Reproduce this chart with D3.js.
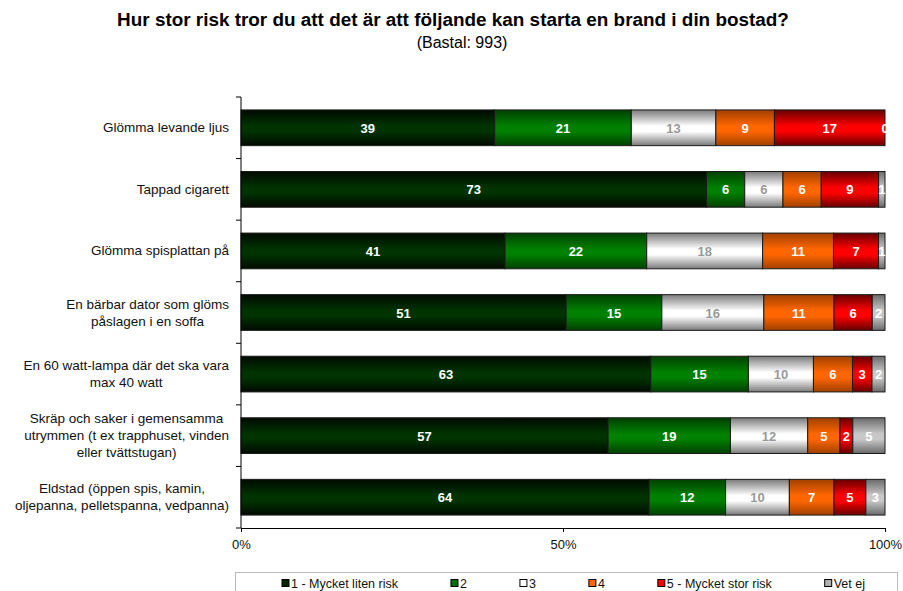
<!DOCTYPE html>
<html>
<head>
<meta charset="utf-8">
<script src="https://cdn.jsdelivr.net/npm/d3@7"></script>
<style>
  body { margin: 0; background: #fff; }
  svg { font-family: "Liberation Sans", Arial, sans-serif; }
</style>
</head>
<body>
<div id="chart"></div>
<script>
// categories (wrapped into lines as in the original)
var categories = [
  ["Glömma levande ljus"],
  ["Tappad cigarett"],
  ["Glömma spisplattan på"],
  ["En bärbar dator som glöms", "påslagen i en soffa"],
  ["En 60 watt-lampa där det ska vara", "max 40 watt"],
  ["Skräp och saker i gemensamma", "utrymmen (t ex trapphuset, vinden", "eller tvättstugan)"],
  ["Eldstad (öppen spis, kamin,", "oljepanna, pelletspanna, vedpanna)"]
];
var seriesNames = ["1 - Mycket liten risk", "2", "3", "4", "5 - Mycket stor risk", "Vet ej"];
var s1 = [39, 73, 41, 51, 63, 57, 64];
var s2 = [21, 6, 22, 15, 15, 19, 12];
var s3 = [13, 6, 18, 16, 10, 12, 10];
var s4 = [9, 6, 11, 11, 6, 5, 7];
var s5 = [17, 9, 7, 6, 3, 2, 5];
var s6 = [0, 1, 1, 2, 2, 5, 3];
var xTicks = [0, 0.5, 1];

var series = [s1, s2, s3, s4, s5, s6];
// gradient stops: edge, middle
var fills = [
  ["#000a00", "#003300"],
  ["#004000", "#008000"],
  ["#7a7a7a", "#ffffff"],
  ["#a04000", "#ff6600"],
  ["#660000", "#ff0000"],
  ["#6a6a6a", "#c8c8c8"]
];
var swatch = ["#002800", "#007000", "#ffffff", "#ff6600", "#ff0000", "#b0b0b0"];
var labelColors = ["#fff", "#fff", "#999", "#fff", "#fff", "#fff"];

var width = 903, height = 591;
var margin = {left: 241, right: 18, top: 97, bottom: 63};

var svg = d3.select("#chart").append("svg")
  .attr("width", width).attr("height", height);

var defs = svg.append("defs");
fills.forEach(function(f, i) {
  var g = defs.append("linearGradient").attr("id", "g" + i)
    .attr("x1", 0).attr("y1", 0).attr("x2", 0).attr("y2", 1);
  g.append("stop").attr("offset", "0%").attr("stop-color", f[0]);
  g.append("stop").attr("offset", "45%").attr("stop-color", f[1]);
  g.append("stop").attr("offset", "60%").attr("stop-color", f[1]);
  g.append("stop").attr("offset", "100%").attr("stop-color", f[0]);
});

// title
svg.append("text").attr("x", 453).attr("y", 26)
  .attr("text-anchor", "middle").attr("font-size", "18.9px").attr("font-weight", "bold")
  .attr("fill", "#000")
  .text("Hur stor risk tror du att det är att följande kan starta en brand i din bostad?");
svg.append("text").attr("x", 462).attr("y", 48)
  .attr("text-anchor", "middle").attr("font-size", "16px").attr("fill", "#000")
  .text("(Bastal: 993)");

var x = d3.scaleLinear().domain([0, 1]).range([margin.left, width - margin.right]);
var y = d3.scaleBand().domain(d3.range(categories.length))
  .range([margin.top, height - margin.bottom]).paddingInner(0.42).paddingOuter(0.21);

// stacked rows, normalised to 100%
var rows = categories.map(function(c, i) {
  var vals = series.map(function(s) { return s[i]; });
  var total = d3.sum(vals);
  var acc = 0;
  return vals.map(function(v, k) {
    var seg = {row: i, k: k, v: v, x0: acc / total, x1: (acc + v) / total};
    acc += v;
    return seg;
  });
});

var bars = svg.append("g");
rows.forEach(function(segs) {
  var g = bars.append("g");
  g.selectAll("rect").data(segs).enter().append("rect")
    .attr("x", function(d) { return x(d.x0); })
    .attr("y", function(d) { return y(d.row); })
    .attr("width", function(d) { return x(d.x1) - x(d.x0); })
    .attr("height", y.bandwidth())
    .attr("fill", function(d) { return "url(#g" + d.k + ")"; })
    .attr("stroke", "#1a1a1a").attr("stroke-width", 1);
  g.selectAll("text").data(segs).enter().append("text")
    .attr("x", function(d) { return (x(d.x0) + x(d.x1)) / 2; })
    .attr("y", function(d) { return y(d.row) + y.bandwidth() / 2 + 5; })
    .attr("text-anchor", "middle").attr("font-size", "13px").attr("font-weight", "bold")
    .attr("fill", function(d) { return labelColors[d.k]; })
    .text(function(d) { return d.v; });
});

// axes
var yAxisG = svg.append("g").attr("transform", "translate(" + margin.left + ",0)");
yAxisG.append("line").attr("x1", 0).attr("x2", 0)
  .attr("y1", margin.top).attr("y2", height - margin.bottom).attr("stroke", "#000");
d3.range(categories.length + 1).forEach(function(i) {
  var yy = margin.top + i * (height - margin.top - margin.bottom) / categories.length;
  yAxisG.append("line").attr("x1", -5).attr("x2", 0).attr("y1", yy).attr("y2", yy).attr("stroke", "#000");
});

var xAxis = d3.axisBottom(x).tickValues(xTicks).tickFormat(d3.format(".0%")).tickSize(4);
var xg = svg.append("g").attr("transform", "translate(0," + (height - margin.bottom) + ")").call(xAxis);
xg.select(".domain").attr("stroke", "#000");
xg.selectAll(".tick line").attr("stroke", "#000");
xg.selectAll(".tick text").attr("font-size", "13px").attr("fill", "#111")
  .attr("font-family", "'Liberation Sans', Arial, sans-serif").attr("dy", "1.05em");

// category labels, centred block right-aligned near the axis
var labG = svg.append("g");
categories.forEach(function(lines, i) {
  var t = labG.append("text").attr("font-size", "13.5px").attr("fill", "#111")
    .attr("text-anchor", "middle");
  var lh = 17;
  var cy = y(i) + y.bandwidth() / 2 - (lines.length - 1) * lh / 2 + 4.5;
  var spans = lines.map(function(l, j) {
    return t.append("tspan").attr("y", cy + j * lh).text(l);
  });
  var w = d3.max(spans, function(s) { return s.node().getComputedTextLength(); });
  spans.forEach(function(s) { s.attr("x", 229 - w / 2); });
});

// legend, items laid out left to right with an even gap
var lg = svg.append("g");
lg.append("rect").attr("x", 235.5).attr("y", 572.5).attr("width", 662).attr("height", 30)
  .attr("fill", "#fff").attr("stroke", "#bbb");
var lx = 282, gap = 53;
seriesNames.forEach(function(n, i) {
  lg.append("rect").attr("x", lx).attr("y", 579.5).attr("width", 7).attr("height", 7)
    .attr("fill", swatch[i]).attr("stroke", "#000");
  var t = lg.append("text").attr("x", lx + 9).attr("y", 587.5)
    .attr("font-size", "12.5px").attr("fill", "#111").text(n);
  lx += 9 + t.node().getComputedTextLength() + gap;
});
</script>
</body>
</html>
